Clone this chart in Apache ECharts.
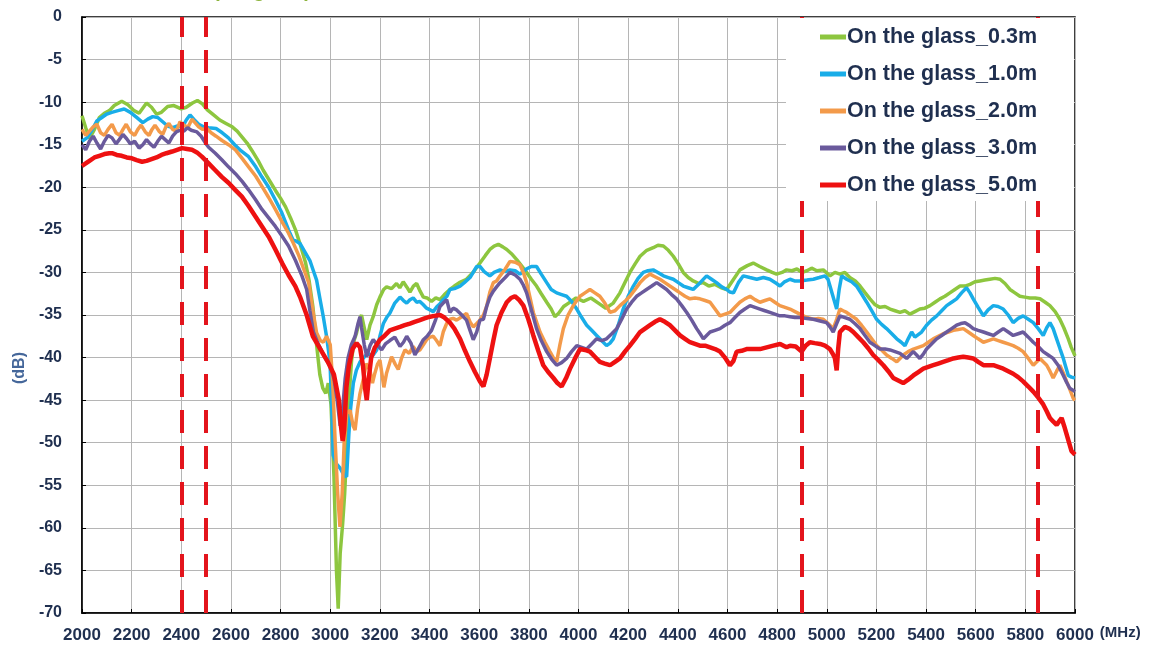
<!DOCTYPE html>
<html>
<head>
<meta charset="utf-8">
<script src="https://cdn.jsdelivr.net/npm/echarts@6/dist/echarts.min.js"></script>
<style>
  html, body { margin: 0; padding: 0; background: #fff; }
  #chart { width: 1153px; height: 663px; }
</style>
</head>
<body>
<div id="chart"></div>
<script>
// [frequency MHz, level dB]
const glass03 = [
  [2000,-11.6],[2015,-13.0],[2030,-14.3],[2050,-13.2],[2070,-11.8],[2090,-11.3],[2110,-11.0],[2130,-10.4],[2160,-9.9],[2185,-10.3],
  [2210,-11.0],[2230,-11.3],[2260,-10.1],[2280,-10.6],[2300,-11.4],[2320,-11.2],[2345,-10.5],[2370,-10.4],[2400,-10.8],[2420,-10.6],
  [2445,-10.1],[2465,-9.8],[2485,-10.2],[2505,-10.9],[2530,-11.5],[2555,-12.1],[2580,-12.5],[2605,-12.9],[2625,-13.4],[2645,-14.1],
  [2665,-14.8],[2685,-15.7],[2710,-16.9],[2730,-18.0],[2755,-19.2],[2780,-20.4],[2800,-21.3],[2820,-22.3],[2840,-23.6],[2860,-25.0],
  [2880,-26.8],[2900,-28.8],[2915,-31.0],[2930,-34.0],[2945,-38.5],[2958,-42.0],[2970,-43.6],[2982,-44.2],[2992,-43.0],[3003,-45.5],
  [3015,-54.0],[3025,-65.0],[3032,-69.5],[3040,-63.0],[3050,-59.5],[3058,-56.0],[3066,-51.0],[3076,-44.5],[3086,-40.3],[3096,-38.0],
  [3106,-37.1],[3118,-35.6],[3126,-35.0],[3137,-36.5],[3147,-37.9],[3160,-36.2],[3173,-35.2],[3187,-33.8],[3200,-32.9],[3215,-32.0],
  [3227,-31.7],[3247,-31.9],[3267,-31.3],[3280,-31.8],[3294,-31.1],[3308,-31.7],[3321,-32.3],[3335,-31.6],[3348,-31.3],[3362,-32.2],
  [3375,-32.9],[3390,-33.0],[3408,-33.4],[3425,-33.0],[3442,-33.2],[3460,-32.6],[3482,-32.0],[3500,-31.6],[3520,-31.2],[3549,-30.8],
  [3575,-30.0],[3603,-28.9],[3625,-28.0],[3643,-27.3],[3660,-26.9],[3677,-26.7],[3695,-27.0],[3711,-27.3],[3730,-27.8],[3751,-28.5],
  [3770,-29.2],[3791,-30.0],[3810,-30.8],[3831,-31.6],[3850,-32.5],[3872,-33.5],[3890,-34.3],[3905,-35.2],[3920,-34.8],[3940,-34.0],
  [3960,-33.6],[3990,-33.0],[4020,-33.4],[4050,-33.0],[4080,-33.6],[4110,-34.2],[4140,-33.6],[4167,-32.4],[4190,-31.0],[4207,-30.0],
  [4228,-29.0],[4248,-28.1],[4275,-27.4],[4301,-27.1],[4320,-26.8],[4342,-26.9],[4362,-27.4],[4382,-28.1],[4402,-29.0],[4422,-30.0],
  [4442,-30.6],[4462,-31.0],[4485,-31.3],[4503,-31.2],[4525,-31.6],[4550,-31.4],[4575,-31.8],[4597,-32.0],[4620,-31.0],[4650,-29.7],
  [4680,-29.2],[4704,-28.9],[4730,-29.3],[4758,-29.7],[4780,-30.0],[4798,-30.2],[4820,-30.0],[4838,-29.7],[4860,-29.8],[4880,-29.6],
  [4900,-30.0],[4920,-29.8],[4939,-29.5],[4960,-29.8],[4986,-29.7],[5013,-30.4],[5033,-30.0],[5053,-30.2],[5073,-30.0],[5093,-30.6],
  [5115,-31.0],[5134,-31.6],[5155,-32.4],[5174,-33.1],[5195,-33.8],[5214,-34.1],[5235,-34.0],[5255,-34.3],[5275,-34.5],[5295,-34.7],
  [5315,-34.5],[5335,-34.9],[5355,-34.6],[5375,-34.3],[5395,-34.2],[5416,-33.9],[5436,-33.5],[5456,-33.1],[5476,-32.8],[5496,-32.4],
  [5516,-32.0],[5537,-31.6],[5557,-31.6],[5577,-31.4],[5597,-31.1],[5617,-31.0],[5637,-30.9],[5657,-30.8],[5678,-30.7],[5698,-30.8],
  [5718,-31.3],[5738,-32.0],[5758,-32.4],[5778,-32.8],[5798,-32.9],[5818,-33.0],[5840,-33.0],[5859,-33.1],[5880,-33.5],[5899,-33.9],
  [5920,-34.6],[5939,-35.5],[5955,-36.5],[5973,-37.8],[5985,-38.8],[6000,-39.8]
];

const glass10 = [
  [2000,-14.6],[2020,-14.2],[2040,-13.3],[2060,-12.2],[2080,-11.8],[2100,-11.4],[2120,-11.2],[2145,-11.0],[2170,-10.8],[2195,-11.2],
  [2220,-11.8],[2245,-12.4],[2265,-12.0],[2285,-11.7],[2305,-11.8],[2325,-12.3],[2345,-12.8],[2365,-13.0],[2385,-12.8],[2405,-12.9],
  [2420,-12.1],[2435,-11.5],[2450,-12.0],[2470,-12.6],[2490,-12.9],[2510,-13.0],[2540,-13.1],[2565,-13.6],[2590,-14.2],[2615,-15.0],
  [2640,-15.7],[2671,-16.4],[2700,-17.6],[2725,-18.8],[2752,-20.0],[2779,-21.5],[2805,-23.0],[2832,-25.0],[2850,-26.2],[2862,-26.3],
  [2878,-26.6],[2900,-27.7],[2918,-28.6],[2932,-29.8],[2945,-30.9],[2958,-33.0],[2972,-35.2],[2985,-37.5],[2999,-40.5],[3006,-46.0],
  [3012,-51.5],[3025,-52.5],[3040,-53.0],[3055,-53.8],[3066,-54.0],[3075,-49.0],[3082,-46.0],[3093,-43.0],[3105,-41.5],[3120,-40.5],
  [3150,-39.5],[3170,-39.8],[3187,-39.1],[3200,-37.5],[3214,-36.0],[3227,-35.3],[3240,-34.8],[3260,-33.6],[3281,-32.9],[3295,-33.3],
  [3308,-33.6],[3321,-33.2],[3334,-33.0],[3348,-33.5],[3361,-33.4],[3375,-33.8],[3388,-34.2],[3402,-34.4],[3415,-34.6],[3430,-34.0],
  [3442,-33.7],[3455,-33.2],[3470,-32.8],[3482,-32.0],[3500,-31.9],[3523,-31.6],[3540,-31.2],[3563,-30.6],[3590,-29.3],[3603,-29.3],
  [3620,-29.9],[3643,-30.4],[3660,-30.0],[3684,-29.7],[3705,-29.9],[3724,-29.7],[3745,-29.8],[3764,-30.2],[3790,-29.6],[3810,-29.3],
  [3831,-29.3],[3850,-30.2],[3872,-31.2],[3890,-32.0],[3912,-32.4],[3932,-32.6],[3952,-32.8],[3972,-33.4],[3993,-34.3],[4013,-35.3],
  [4033,-36.2],[4053,-36.8],[4073,-37.4],[4093,-38.0],[4113,-38.6],[4127,-38.3],[4140,-37.8],[4160,-36.2],[4180,-34.3],[4200,-32.8],
  [4221,-31.6],[4240,-30.7],[4261,-30.0],[4280,-29.8],[4301,-29.7],[4320,-30.0],[4342,-30.4],[4362,-30.6],[4382,-30.8],[4402,-31.2],
  [4422,-31.6],[4442,-31.8],[4462,-32.0],[4490,-31.2],[4516,-30.4],[4536,-30.8],[4556,-31.2],[4577,-31.7],[4597,-32.0],[4610,-32.3],
  [4624,-32.4],[4644,-31.2],[4664,-30.4],[4690,-30.6],[4718,-30.8],[4745,-30.6],[4771,-30.8],[4798,-31.3],[4812,-31.6],[4830,-31.1],
  [4852,-30.8],[4870,-31.0],[4892,-31.0],[4920,-30.9],[4946,-30.8],[4970,-30.6],[4993,-30.4],[5005,-30.8],[5013,-31.6],[5027,-33.0],
  [5040,-34.3],[5050,-32.0],[5060,-30.4],[5080,-30.8],[5100,-31.1],[5120,-31.6],[5140,-32.5],[5161,-33.5],[5181,-34.5],[5201,-35.5],
  [5221,-36.1],[5241,-36.6],[5262,-37.2],[5282,-37.8],[5300,-38.2],[5315,-38.6],[5328,-37.8],[5342,-37.0],[5355,-37.6],[5362,-37.8],
  [5382,-37.0],[5402,-36.2],[5422,-35.6],[5443,-35.1],[5463,-34.5],[5483,-33.9],[5503,-33.5],[5523,-33.1],[5543,-32.4],[5563,-31.8],
  [5577,-32.4],[5590,-33.1],[5610,-34.1],[5631,-35.1],[5650,-34.4],[5671,-33.9],[5690,-34.0],[5711,-34.3],[5731,-35.0],[5751,-35.9],
  [5771,-35.4],[5791,-35.1],[5812,-35.5],[5832,-35.9],[5852,-36.6],[5872,-37.4],[5886,-36.5],[5899,-35.9],[5912,-36.6],[5926,-37.8],
  [5940,-39.0],[5953,-40.1],[5965,-41.3],[5973,-42.1],[5986,-42.3],[6000,-42.4]
];

const glass20 = [
  [2000,-13.2],[2015,-13.9],[2030,-13.4],[2045,-12.9],[2060,-12.6],[2075,-13.6],[2090,-13.9],[2105,-13.2],[2121,-12.6],[2137,-13.6],
  [2152,-13.9],[2165,-13.2],[2178,-12.6],[2195,-13.5],[2212,-13.9],[2225,-13.2],[2238,-12.7],[2255,-13.5],[2270,-13.9],[2282,-13.2],
  [2294,-12.7],[2310,-13.4],[2325,-13.8],[2338,-12.9],[2350,-12.5],[2365,-13.2],[2380,-13.4],[2395,-12.3],[2403,-12.1],[2415,-12.8],
  [2428,-12.9],[2443,-12.0],[2455,-12.4],[2470,-12.9],[2485,-13.2],[2503,-13.1],[2520,-13.6],[2540,-14.0],[2564,-14.5],[2590,-15.0],
  [2618,-15.6],[2645,-16.6],[2671,-17.6],[2700,-18.7],[2725,-19.9],[2752,-21.2],[2779,-22.6],[2805,-24.0],[2832,-25.4],[2852,-26.6],
  [2873,-28.0],[2893,-29.6],[2913,-31.2],[2930,-34.5],[2945,-37.1],[2960,-38.0],[2972,-38.2],[2985,-37.5],[2992,-37.5],[3000,-38.5],
  [3010,-43.0],[3020,-50.0],[3030,-56.0],[3039,-59.9],[3048,-56.0],[3056,-50.0],[3066,-46.5],[3080,-46.2],[3092,-48.0],[3100,-48.5],
  [3110,-46.0],[3120,-44.2],[3133,-42.6],[3145,-40.7],[3160,-41.5],[3170,-43.0],[3180,-41.8],[3190,-40.8],[3200,-40.3],[3216,-43.5],
  [3227,-41.8],[3247,-39.9],[3262,-40.8],[3274,-41.4],[3288,-40.0],[3301,-39.1],[3318,-39.5],[3334,-38.7],[3348,-39.3],[3361,-39.1],
  [3375,-38.5],[3388,-37.9],[3402,-37.6],[3415,-37.5],[3428,-38.0],[3442,-38.6],[3455,-37.0],[3469,-36.0],[3482,-35.5],[3495,-35.4],
  [3509,-35.6],[3530,-35.2],[3549,-34.8],[3563,-35.8],[3576,-36.4],[3590,-36.0],[3603,-35.6],[3617,-35.0],[3630,-34.0],[3643,-32.3],
  [3657,-31.2],[3670,-31.0],[3684,-30.4],[3705,-29.6],[3724,-28.7],[3745,-28.8],[3764,-29.1],[3778,-30.0],[3791,-31.2],[3805,-33.0],
  [3818,-34.7],[3832,-35.9],[3845,-37.0],[3865,-38.2],[3885,-39.3],[3900,-40.1],[3912,-40.5],[3925,-38.5],[3939,-36.6],[3958,-35.0],
  [3979,-33.9],[3993,-33.3],[4006,-32.8],[4026,-32.4],[4046,-32.0],[4066,-32.4],[4086,-32.8],[4106,-33.6],[4127,-34.7],[4147,-34.5],
  [4167,-33.9],[4187,-33.4],[4207,-32.8],[4228,-32.0],[4248,-31.2],[4268,-30.6],[4288,-30.2],[4308,-30.5],[4328,-30.8],[4348,-31.2],
  [4368,-31.6],[4389,-32.0],[4409,-32.4],[4429,-32.8],[4449,-33.1],[4469,-33.0],[4489,-33.1],[4510,-33.3],[4530,-33.5],[4550,-34.3],
  [4570,-35.1],[4590,-34.9],[4610,-34.7],[4630,-34.1],[4650,-33.5],[4670,-33.1],[4691,-32.8],[4711,-33.2],[4731,-33.5],[4751,-33.3],
  [4771,-33.1],[4791,-33.5],[4811,-33.9],[4832,-34.1],[4852,-34.3],[4872,-34.6],[4892,-34.9],[4920,-35.3],[4946,-35.5],[4966,-35.4],
  [4986,-35.5],[5006,-36.0],[5026,-36.6],[5040,-35.5],[5053,-34.3],[5066,-34.5],[5080,-34.7],[5100,-35.1],[5120,-35.5],[5140,-36.2],
  [5161,-37.0],[5181,-37.8],[5201,-38.6],[5221,-39.1],[5241,-39.7],[5262,-40.1],[5282,-40.5],[5295,-40.1],[5308,-39.7],[5328,-39.3],
  [5349,-39.0],[5369,-38.8],[5389,-38.6],[5409,-38.2],[5429,-37.8],[5449,-37.5],[5469,-37.2],[5490,-37.0],[5510,-36.8],[5530,-36.7],
  [5550,-36.6],[5570,-37.0],[5590,-37.4],[5610,-37.8],[5631,-38.2],[5651,-38.0],[5671,-37.8],[5691,-38.0],[5711,-38.2],[5731,-38.4],
  [5751,-38.6],[5771,-38.9],[5791,-39.3],[5812,-40.1],[5832,-40.9],[5846,-40.5],[5859,-40.1],[5872,-40.5],[5886,-40.9],[5899,-41.6],
  [5912,-42.4],[5926,-41.6],[5939,-40.9],[5953,-41.8],[5966,-42.8],[5980,-43.8],[5993,-44.8],[6000,-45.0]
];

const glass30 = [
  [2000,-15.0],[2015,-15.6],[2030,-14.6],[2045,-14.0],[2060,-14.8],[2075,-15.5],[2090,-14.6],[2105,-13.9],[2121,-14.2],[2137,-14.9],
  [2150,-14.4],[2165,-13.8],[2180,-14.3],[2195,-14.9],[2212,-14.6],[2230,-15.4],[2245,-15.0],[2260,-14.4],[2275,-14.9],[2290,-15.3],
  [2305,-14.6],[2320,-14.0],[2335,-14.4],[2350,-14.8],[2365,-14.0],[2380,-13.5],[2395,-13.3],[2410,-13.4],[2425,-13.0],[2440,-13.3],
  [2463,-13.5],[2480,-14.0],[2495,-14.7],[2510,-15.3],[2537,-16.0],[2564,-16.8],[2590,-17.6],[2618,-18.4],[2645,-19.3],[2671,-20.3],
  [2698,-21.4],[2725,-22.6],[2752,-23.6],[2779,-24.6],[2805,-25.7],[2832,-26.9],[2860,-28.6],[2886,-30.4],[2905,-32.0],[2918,-34.5],
  [2932,-37.0],[2950,-38.3],[2970,-39.5],[2985,-40.3],[3000,-41.0],[3015,-42.5],[3028,-45.0],[3040,-48.0],[3050,-46.0],[3060,-42.5],
  [3072,-40.0],[3085,-38.5],[3100,-37.5],[3112,-36.0],[3120,-35.2],[3126,-36.5],[3137,-38.5],[3147,-39.9],[3160,-38.6],[3173,-37.9],
  [3190,-38.5],[3207,-39.1],[3222,-38.4],[3240,-38.0],[3260,-37.6],[3281,-38.7],[3295,-38.2],[3308,-37.5],[3325,-38.3],[3341,-39.7],
  [3358,-38.8],[3375,-37.9],[3390,-37.5],[3408,-36.8],[3425,-35.5],[3442,-34.0],[3455,-33.6],[3469,-33.2],[3482,-34.7],[3495,-34.2],
  [3509,-34.4],[3530,-35.0],[3549,-35.6],[3563,-36.8],[3576,-37.9],[3590,-37.0],[3603,-35.6],[3617,-35.5],[3630,-34.0],[3643,-32.9],
  [3657,-32.2],[3670,-31.7],[3684,-31.2],[3705,-30.6],[3724,-30.0],[3745,-30.3],[3764,-30.8],[3778,-31.5],[3791,-32.4],[3811,-34.5],
  [3831,-36.6],[3850,-38.0],[3872,-39.3],[3892,-40.2],[3912,-40.9],[3932,-40.6],[3952,-40.1],[3972,-39.3],[3993,-38.6],[4013,-38.8],
  [4033,-39.0],[4053,-38.4],[4073,-37.8],[4093,-38.0],[4113,-37.8],[4134,-37.2],[4154,-36.6],[4174,-35.5],[4194,-34.3],[4214,-33.5],
  [4234,-32.8],[4254,-32.4],[4274,-32.0],[4295,-31.6],[4315,-31.2],[4335,-31.6],[4355,-32.0],[4375,-32.6],[4395,-33.1],[4416,-33.9],
  [4436,-34.7],[4456,-35.6],[4476,-36.6],[4490,-37.2],[4503,-37.8],[4516,-37.4],[4530,-37.0],[4550,-36.8],[4570,-36.6],[4590,-36.2],
  [4610,-35.9],[4630,-35.3],[4650,-34.7],[4670,-34.3],[4691,-33.9],[4711,-34.1],[4731,-34.3],[4751,-34.5],[4771,-34.7],[4791,-34.9],
  [4811,-35.1],[4832,-35.1],[4852,-35.2],[4872,-35.3],[4892,-35.3],[4920,-35.4],[4946,-35.5],[4973,-35.7],[4999,-35.9],[5013,-36.4],
  [5026,-37.0],[5040,-36.0],[5053,-35.1],[5073,-35.3],[5093,-35.5],[5113,-36.0],[5134,-36.6],[5154,-37.4],[5174,-38.2],[5194,-38.6],
  [5214,-39.0],[5235,-39.0],[5255,-39.1],[5275,-39.3],[5295,-39.5],[5308,-39.8],[5322,-40.1],[5335,-39.7],[5349,-39.3],[5362,-39.7],
  [5375,-40.1],[5389,-39.6],[5402,-39.0],[5422,-38.4],[5443,-37.8],[5463,-37.4],[5483,-37.0],[5503,-36.6],[5523,-36.2],[5540,-36.0],
  [5557,-35.9],[5573,-36.2],[5590,-36.6],[5610,-36.8],[5631,-37.0],[5651,-37.2],[5671,-37.4],[5691,-37.0],[5711,-36.6],[5731,-37.0],
  [5751,-37.4],[5771,-37.2],[5791,-37.0],[5812,-37.6],[5832,-38.2],[5852,-38.7],[5872,-39.3],[5892,-39.7],[5912,-40.1],[5932,-40.9],
  [5953,-42.1],[5966,-42.9],[5979,-43.6],[5990,-43.8],[6000,-44.0]
];

const glass50 = [
  [2000,-17.5],[2015,-17.2],[2030,-16.9],[2050,-16.5],[2070,-16.3],[2090,-16.1],[2110,-16.0],[2121,-16.0],[2140,-16.2],[2160,-16.3],
  [2180,-16.5],[2201,-16.6],[2220,-16.8],[2242,-17.0],[2260,-16.9],[2280,-16.7],[2300,-16.5],[2320,-16.2],[2340,-16.0],[2363,-15.8],
  [2383,-15.6],[2403,-15.4],[2423,-15.5],[2443,-15.6],[2463,-15.9],[2483,-16.4],[2510,-17.2],[2537,-18.0],[2564,-18.8],[2591,-19.5],
  [2617,-20.3],[2644,-21.1],[2671,-22.2],[2698,-23.4],[2725,-24.6],[2752,-25.8],[2779,-27.3],[2806,-28.9],[2832,-30.3],[2859,-31.6],
  [2880,-33.0],[2905,-35.0],[2930,-37.5],[2960,-39.0],[2990,-40.5],[3015,-42.0],[3035,-45.0],[3043,-48.0],[3050,-49.8],[3056,-48.5],
  [3065,-43.5],[3075,-41.0],[3090,-39.0],[3106,-38.3],[3120,-38.8],[3132,-41.0],[3140,-43.5],[3147,-45.0],[3155,-42.5],[3165,-40.0],
  [3180,-38.8],[3200,-37.9],[3220,-37.4],[3240,-36.8],[3260,-36.6],[3281,-36.4],[3300,-36.2],[3321,-36.0],[3340,-35.8],[3361,-35.6],
  [3380,-35.4],[3402,-35.2],[3420,-35.1],[3442,-35.0],[3460,-35.3],[3482,-35.9],[3500,-36.6],[3523,-37.8],[3543,-39.2],[3563,-40.5],
  [3583,-41.7],[3603,-42.8],[3617,-43.4],[3630,-42.0],[3643,-40.1],[3657,-38.0],[3670,-36.2],[3690,-34.7],[3711,-33.5],[3728,-33.0],
  [3744,-32.8],[3760,-33.2],[3778,-33.9],[3798,-35.5],[3818,-37.4],[3838,-39.2],[3858,-40.9],[3878,-41.7],[3899,-42.4],[3915,-43.0],
  [3932,-43.4],[3950,-42.4],[3966,-41.3],[3986,-40.1],[4006,-39.0],[4026,-39.1],[4046,-39.3],[4066,-39.9],[4086,-40.5],[4106,-40.7],
  [4127,-40.9],[4147,-40.5],[4167,-40.1],[4187,-39.3],[4207,-38.6],[4228,-37.8],[4248,-37.0],[4268,-36.6],[4288,-36.2],[4308,-35.8],
  [4328,-35.5],[4348,-35.8],[4368,-36.2],[4389,-36.8],[4409,-37.4],[4429,-37.8],[4449,-38.2],[4469,-38.4],[4489,-38.6],[4510,-38.6],
  [4530,-38.8],[4550,-39.0],[4570,-39.3],[4590,-40.0],[4610,-40.9],[4624,-40.4],[4637,-39.3],[4657,-39.2],[4677,-39.0],[4704,-39.0],
  [4731,-39.0],[4758,-38.8],[4785,-38.6],[4812,-38.4],[4838,-38.8],[4852,-38.6],[4875,-38.7],[4899,-39.3],[4915,-38.6],[4932,-38.2],
  [4952,-38.3],[4973,-38.4],[4993,-38.6],[5013,-39.0],[5025,-39.6],[5033,-40.1],[5040,-41.5],[5046,-39.0],[5053,-37.0],[5073,-36.4],
  [5090,-36.6],[5107,-37.0],[5127,-37.6],[5147,-38.2],[5167,-38.9],[5187,-39.7],[5208,-40.3],[5228,-40.9],[5248,-41.6],[5268,-42.4],
  [5288,-42.7],[5308,-43.0],[5328,-42.6],[5349,-42.1],[5369,-41.7],[5389,-41.3],[5409,-41.1],[5429,-40.9],[5449,-40.7],[5469,-40.5],
  [5490,-40.3],[5510,-40.1],[5530,-40.0],[5550,-39.9],[5570,-40.0],[5590,-40.1],[5610,-40.5],[5631,-40.9],[5651,-40.9],[5671,-40.9],
  [5691,-41.1],[5711,-41.3],[5731,-41.6],[5751,-41.9],[5771,-42.3],[5791,-42.8],[5812,-43.4],[5832,-44.0],[5852,-44.7],[5872,-45.5],
  [5886,-46.3],[5899,-47.1],[5912,-47.5],[5926,-47.9],[5936,-47.5],[5946,-47.1],[5956,-48.0],[5966,-49.0],[5976,-50.0],[5986,-51.0],
  [5994,-51.2],[6000,-51.4]
];

const seriesNames = ['On the glass_0.3m', 'On the glass_1.0m', 'On the glass_2.0m', 'On the glass_3.0m', 'On the glass_5.0m'];
const bandEdges = [2400, 2500, 4900, 5850]; // red dashed markers (MHz)

const colors = ['#8dc63f', '#19ade8', '#f39a4a', '#6a5a9c', '#ee1111'];
const widths = [3.5, 3.5, 3.5, 3.5, 4.5];
const allData = [glass03, glass10, glass20, glass30, glass50];

const FONT = "'Liberation Sans', Arial, sans-serif";
const TEXT = '#1f2f4f';

const chart = echarts.init(document.getElementById('chart'), null, { renderer: 'canvas' });

const series = allData.map((d, i) => ({
    name: seriesNames[i],
    type: 'line',
    data: d,
    symbol: 'none',
    smooth: false,
    z: 2 + i * 0.01,
    lineStyle: { color: colors[i], width: widths[i] },
    itemStyle: { color: colors[i] }
}));

// dashed band markers ride on the top-most series, kept under the legend box
series[4].markLine = {
    silent: true,
    z: 2.5,
    symbol: 'none',
    label: { show: false },
    lineStyle: { color: '#e3141c', width: 4, type: [23, 13], opacity: 1 },
    data: bandEdges.map(f => ({ xAxis: f }))
};

const option = {
    backgroundColor: '#fff',
    animation: false,
    grid: {
        left: 82, right: 78, top: 17, bottom: 50,
        show: true,
        borderColor: '#000',
        borderWidth: 1.5,
        containLabel: false
    },
    legend: {
        orient: 'vertical',
        left: 820,
        top: 22,
        padding: 0,
        itemGap: 7,
        itemWidth: 26,
        itemHeight: 5,
        icon: 'rect',
        textStyle: {
            fontFamily: FONT, fontWeight: 'bold', fontSize: 21.5,
            color: TEXT, lineHeight: 30, padding: [0, 0, 0, -4]
        },
        data: seriesNames
    },
    xAxis: {
        type: 'value',
        min: 2000, max: 6000, interval: 200,
        name: '(MHz)',
        nameLocation: 'end',
        nameGap: 22,
        nameTextStyle: {
            fontFamily: FONT, fontWeight: 'bold', fontSize: 15, color: TEXT,
            verticalAlign: 'top', padding: [12, 0, 0, 0]
        },
        axisLine: { show: true, onZero: false, lineStyle: { color: '#000', width: 1.5 } },
        axisTick: { show: true, inside: true, length: 4, lineStyle: { color: '#000' } },
        axisLabel: {
            fontFamily: FONT, fontWeight: 'bold', fontSize: 17, color: TEXT, margin: 14,
            showMinLabel: true, showMaxLabel: true, hideOverlap: false,
            formatter: v => String(v)
        },
        splitLine: { show: true, lineStyle: { color: '#b5b5b5', width: 1 } }
    },
    yAxis: {
        type: 'value',
        min: -70, max: 0, interval: 5,
        axisLine: { show: true, onZero: false, lineStyle: { color: '#000', width: 1.5 } },
        axisTick: { show: true, inside: true, length: 4, lineStyle: { color: '#000' } },
        axisLabel: {
            fontFamily: FONT, fontWeight: 'bold', fontSize: 16, color: TEXT, margin: 20,
            showMinLabel: true, showMaxLabel: true,
            formatter: v => String(v)
        },
        splitLine: { show: true, lineStyle: { color: '#b5b5b5', width: 1 } }
    },
    graphic: [
        {
            // white box behind the legend
            type: 'rect', z: 3, silent: true,
            shape: { x: 786, y: 18, width: 288, height: 183 },
            style: { fill: '#fff' }
        },
        {
            type: 'text', z: 5, silent: true,
            x: 20, y: 368, rotation: Math.PI / 2,
            style: {
                text: '(dB)', fill: '#45679a',
                font: "bold 16px " + FONT,
                align: 'center', verticalAlign: 'middle'
            }
        },
        {
            // title cut off at the top edge of the picture
            type: 'text', z: 5, silent: true,
            x: 262, y: 1,
            style: {
                text: '(On glass)', fill: '#8cb33c',
                font: "bold 20px " + FONT,
                align: 'center', verticalAlign: 'bottom'
            }
        }
    ],
    series: series
};

chart.setOption(option);
window.addEventListener('resize', () => chart.resize());
</script>
</body>
</html>
